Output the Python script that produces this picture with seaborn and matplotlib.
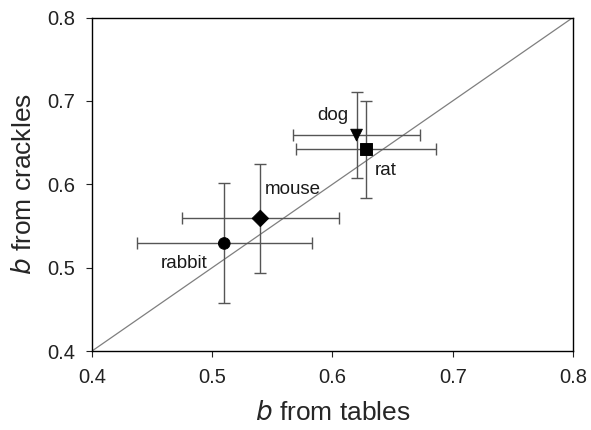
import matplotlib
matplotlib.use("Agg")
import matplotlib.pyplot as plt
import seaborn as sns
import pandas as pd

species = ["rabbit", "mouse", "dog", "rat"]
b_tables = [0.510, 0.540, 0.620, 0.628]
b_crackles = [0.529, 0.559, 0.659, 0.642]
err_tables = [0.073, 0.065, 0.053, 0.058]
err_crackles = [0.072, 0.065, 0.052, 0.058]
markers = {"rabbit": "o", "mouse": "D", "dog": "v", "rat": "s"}
label_offsets = {"rabbit": (-0.033, -0.0235), "mouse": (0.027, 0.035), "dog": (-0.020, 0.024), "rat": (0.0166, -0.025)}
ticks = [0.4, 0.5, 0.6, 0.7, 0.8]

df = pd.DataFrame({"species": species, "b_tables": b_tables, "b_crackles": b_crackles,
                   "err_tables": err_tables, "err_crackles": err_crackles})

sns.set_theme(style="ticks")
plt.rcParams["font.family"] = ["Liberation Sans", "DejaVu Sans"]

fig = plt.figure(figsize=(5.91, 4.30), dpi=100)
ax = fig.add_axes([0.1557, 0.1837, 0.8138, 0.7756])

ax.plot([0.4, 0.8], [0.4, 0.8], color="#7f7f7f", lw=0.9, zorder=1)
ax.errorbar(df["b_tables"], df["b_crackles"], xerr=df["err_tables"], yerr=df["err_crackles"],
            fmt="none", ecolor="#555555", elinewidth=1.0, capsize=4, capthick=1.0, zorder=2)
sns.scatterplot(data=df, x="b_tables", y="b_crackles", style="species", markers=markers,
                color="black", s=70, edgecolor="black", legend=False, ax=ax, zorder=3)

for sp, x, y in zip(species, b_tables, b_crackles):
    dx, dy = label_offsets[sp]
    ax.text(x + dx, y + dy, sp, fontsize=13.5, ha="center", va="center", color="#1a1a1a")

ax.set_xlim(0.4, 0.8)
ax.set_ylim(0.4, 0.8)
ax.set_xticks(ticks)
ax.set_yticks(ticks)
ax.set_xticklabels([f"{t:.1f}" for t in ticks])
ax.set_yticklabels([f"{t:.1f}" for t in ticks])
ax.tick_params(labelsize=14.5, length=4, width=0.8, colors="#222222", pad=8)
for s in ax.spines.values():
    s.set_linewidth(1.0)
    s.set_color("black")
ax.set_xlabel(r"$\it{b}$ from tables", fontsize=19, labelpad=10)
ax.set_ylabel(r"$\it{b}$ from crackles", fontsize=19, labelpad=8)

fig.savefig("out.png", dpi=100)
